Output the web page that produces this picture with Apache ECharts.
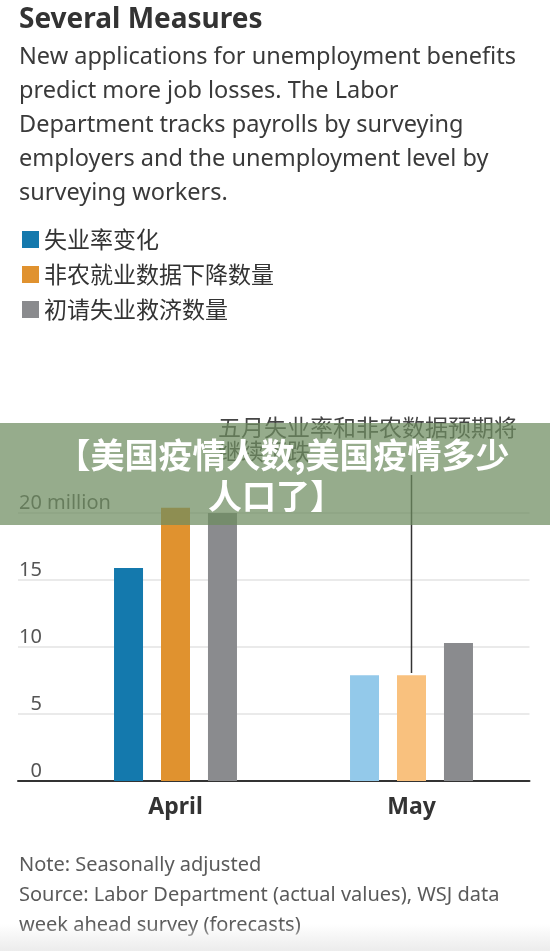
<!DOCTYPE html>
<html>
<head>
<meta charset="utf-8">
<title>Several Measures</title>
<script src="https://cdn.jsdelivr.net/npm/echarts@6.0.0/dist/echarts.min.js"></script>
<style>
  html, body { margin: 0; padding: 0; background: #fff; }
  #chart { width: 550px; height: 951px; }
</style>
</head>
<body>
<div id="chart"></div>
<script>
// data (millions)
var months = ['April', 'May']
var seriesNames = ['失业率变化', '非农就业数据下降数量', '初请失业救济数量']
var unemployment = [15.9, 7.9]
var payrolls = [20.4, 7.9]
var claims = [20.0, 10.3]
var yTicks = [0, 5, 10, 15, 20]
var darkColors = ['#1479ad', '#e0922f', '#8a8b8e']
var lightColors = ['#93c9ea', '#f9c17e', '#8a8b8e'] // May = forecasts

var latin = '"Noto Sans", "Noto Sans CJK SC", sans-serif'
var cjk = '"Noto Sans CJK SC", "Noto Sans", sans-serif'

var subtitle = [
  'New applications for unemployment benefits',
  'predict more job losses. The Labor',
  'Department tracks payrolls by surveying',
  'employers and the unemployment level by',
  'surveying workers.'
]
var notes = [
  'Note: Seasonally adjusted',
  'Source: Labor Department (actual values), WSJ data',
  'week ahead survey (forecasts)'
]

var chart = echarts.init(document.getElementById('chart'))

function barSeries(i, values) {
  return {
    name: seriesNames[i],
    type: 'bar',
    xAxisIndex: 1,
    yAxisIndex: 1,
    barWidth: 29,
    barGap: '62%',
    itemStyle: { color: darkColors[i] },
    data: values.map(function(v, k) {
      return { value: v, itemStyle: { color: k === 0 ? darkColors[i] : lightColors[i] } }
    })
  }
}

var graphics = [
  { type: 'text', left: 19, top: 6, style: { text: 'Several Measures', font: 'bold 28px ' + latin, fill: '#333' } }
]
subtitle.forEach(function(line, i) {
  graphics.push({ type: 'text', left: 19, top: 46 + i * 34, style: { text: line, font: '23.5px ' + latin, fill: '#3a3a3a' } })
})
notes.forEach(function(line, i) {
  graphics.push({ type: 'text', left: 19, top: 855 + i * 30, style: { text: line, font: '20px ' + latin, fill: '#5a5a5a' } })
})
graphics.push(
  // annotation for May forecasts
  { type: 'text', left: 218, top: 416, style: { text: '五月失业率和非农数据预期将', font: '23px ' + cjk, fill: '#444' } },
  { type: 'text', left: 218, top: 440, style: { text: '继续下跌', font: '23px ' + cjk, fill: '#444' } },
  { type: 'line', shape: { x1: 411.5, y1: 475, x2: 411.5, y2: 673 }, style: { stroke: '#333', lineWidth: 1.5 }, z: 5 },
  // green banner on top
  { type: 'rect', shape: { x: 0, y: 423, width: 550, height: 102 }, style: { fill: 'rgba(110,140,95,0.72)' }, z: 100 },
  { type: 'text', x: 283, y: 455, style: { text: '【美国疫情人数,美国疫情多少', font: 'bold 34px ' + cjk, fill: '#fff', textAlign: 'center', textVerticalAlign: 'middle' }, z: 101 },
  { type: 'text', x: 276, y: 496, style: { text: '人口了】', font: 'bold 34px ' + cjk, fill: '#fff', textAlign: 'center', textVerticalAlign: 'middle' }, z: 101 },
  // faint shade at the bottom edge
  { type: 'rect', shape: { x: 0, y: 924, width: 550, height: 27 }, style: { fill: new echarts.graphic.LinearGradient(0, 0, 0, 1, [{ offset: 0, color: 'rgba(235,235,235,0)' }, { offset: 1, color: '#ececec' }]) }, z: 1 }
)

var option = {
  animation: false,
  backgroundColor: '#fff',
  textStyle: { fontFamily: latin },
  legend: {
    orient: 'vertical',
    left: 22,
    top: 228,
    padding: 0,
    icon: 'rect',
    itemWidth: 17,
    itemHeight: 17,
    itemGap: 12,
    textStyle: { fontSize: 23, lineHeight: 23, color: '#333', fontFamily: cjk },
    data: seriesNames
  },
  grid: [
    // grid 0: gridlines + tick labels across the full width
    { left: 18, right: 20.5, top: 513, bottom: 170 },
    // grid 1: bars, positioned so the two groups sit where they do
    { left: 57.5, right: 20.5, top: 781 - 25 * 13.4, bottom: 170 }
  ],
  xAxis: [
    {
      gridIndex: 0, type: 'value', min: 0, max: 1,
      axisLabel: { show: false }, axisTick: { show: false }, splitLine: { show: false },
      axisLine: { show: true, onZero: false, lineStyle: { color: '#333', width: 2 } }
    },
    {
      gridIndex: 1, type: 'category', data: months,
      axisLine: { show: false }, axisTick: { show: false },
      axisLabel: { margin: 15, fontSize: 23, fontWeight: 'bold', color: '#333', fontFamily: latin }
    }
  ],
  yAxis: [
    {
      gridIndex: 0, type: 'value',
      min: yTicks[0], max: yTicks[yTicks.length - 1], interval: yTicks[1] - yTicks[0],
      axisLine: { show: false }, axisTick: { show: false },
      splitLine: { lineStyle: { color: '#e3e3e3', width: 1.5 } },
      axisLabel: {
        inside: true,
        margin: 1,
        align: 'left',
        verticalAlign: 'bottom',
        color: '#555',
        fontSize: 20,
        formatter: function(v) {
          if (v === yTicks[yTicks.length - 1]) return '{n|' + v + ' million}'
          // single digits are right-aligned with the two-digit ones
          return v < 10 ? '{p| }{n|' + v + '}' : '{n|' + v + '}'
        },
        rich: {
          n: { fontSize: 20, color: '#555', fontFamily: latin },
          p: { fontSize: 20, width: 11.4 }
        }
      }
    },
    {
      gridIndex: 1, type: 'value', min: 0, max: 25,
      show: false, splitLine: { show: false }
    }
  ],
  graphic: graphics,
  series: [
    barSeries(0, unemployment),
    barSeries(1, payrolls),
    barSeries(2, claims)
  ]
}

chart.setOption(option)
</script>
</body>
</html>
